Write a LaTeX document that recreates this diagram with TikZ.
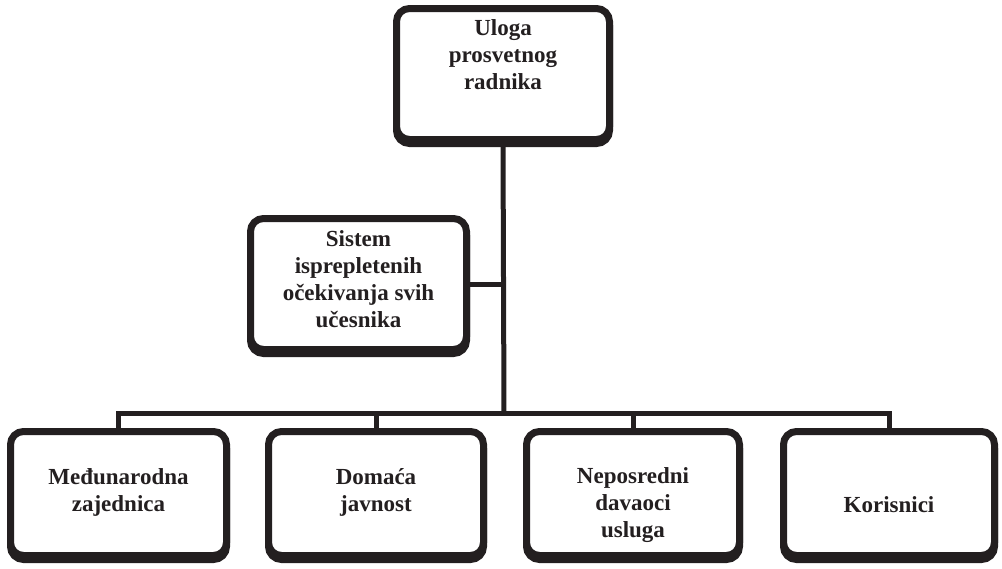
\documentclass[tikz,border=0pt]{standalone}
\usepackage{fontspec}
\setmainfont{Liberation Serif}
\pgfdeclarelayer{bg}
\pgfsetlayers{bg,main}
\definecolor{ink}{HTML}{231F20}
\begin{document}
\begin{tikzpicture}[x=1pt,y=-1pt,
  box/.style={draw=ink, line width=7pt, rounded corners=13pt, fill=white,
    inner sep=0pt, minimum width=214pt, minimum height=#1,
    preaction={draw=ink, line width=7pt, transform canvas={yshift=-4pt}}},
  box/.default=124pt,
  lbl/.style={font=\bfseries\fontsize{23}{27}\selectfont, align=center, inner sep=0pt, text=ink},
  conn/.style={draw=ink, line width=5pt}]
\useasboundingbox (0,0) rectangle (1002,568);
\coordinate (j) at (504,413);
% boxes
\node[box=131pt, minimum width=213pt] (top) at (503,74) {};
\node[box=131pt, minimum width=216pt] (sis) at (358.5,284) {};
\node[box, minimum width=216pt] (b1) at (118.5,493.5) {};
\node[box, minimum width=215pt] (b2) at (376,493.5) {};
\node[box, minimum width=213pt] (b3) at (633,493.5) {};
\node[box, minimum width=211pt] (b4) at (889,493.5) {};
% connectors behind the boxes
\begin{pgfonlayer}{bg}
\draw[conn] (top.south) -- (j);
\draw[conn] (sis.east) -- (sis.east -| j);
\draw[conn] (b1.north) |- (b4.north |- j) -- (b4.north);
\draw[conn] (b2.north) -- (b2.north |- j);
\draw[conn] (b3.north) -- (b3.north |- j);
\end{pgfonlayer}
% texts
\node[lbl] (topT) at (503,55) {Uloga\\prosvetnog\\radnika};
\node[lbl] (sisT) at (358.5,279) {Sistem\\isprepletenih\\očekivanja svih\\učesnika};
\node[lbl] (t1) at (118.5,492.5) {Međunarodna\\zajednica};
\node[lbl] (t2) at (376,492) {Domaća\\javnost};
\node[lbl] (t3) at (633,505.5) {Neposredni\\davaoci\\usluga};
\node[lbl] (t4) at (889,505) {Korisnici};
\end{tikzpicture}
\end{document}
